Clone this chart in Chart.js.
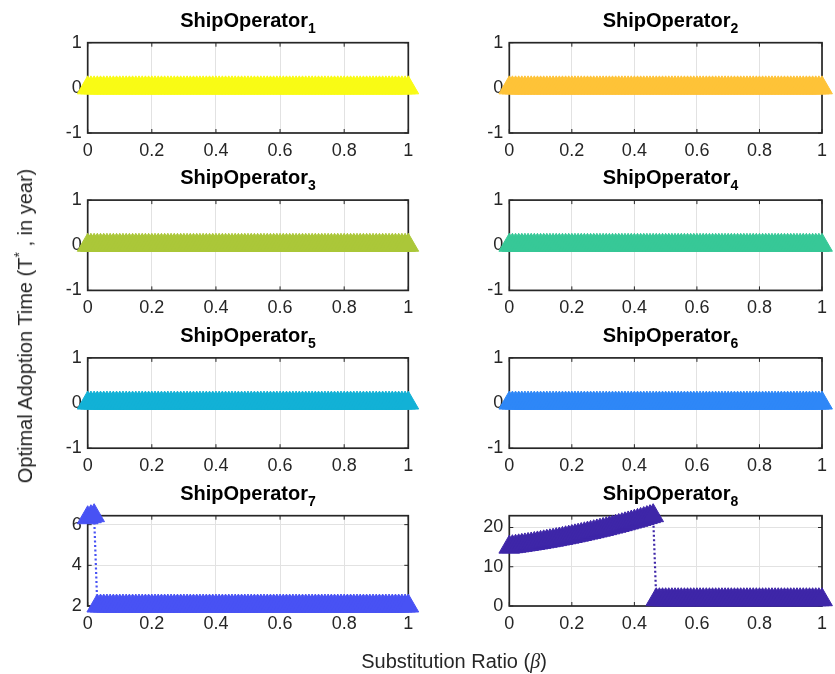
<!DOCTYPE html>
<html>
<head>
<meta charset="utf-8">
<script src="https://cdn.jsdelivr.net/npm/chart.js@4.4.1/dist/chart.umd.min.js"></script>
<style>
html,body{margin:0;padding:0;background:#fff;}
#wrap{position:relative;width:835px;height:674px;overflow:hidden;font-family:"Liberation Sans",Arial,sans-serif;background:#fff;}
#wrap canvas{position:absolute;left:0;top:0;}
.ttl{position:absolute;font-weight:bold;font-size:20px;line-height:20px;color:#000;white-space:nowrap;transform:translateX(-50%);}
.ttl sub{font-size:14px;line-height:0;vertical-align:-6px;}
.lbl{position:absolute;font-size:20px;line-height:20px;color:#262626;white-space:nowrap;}
.lbl sup{font-size:14px;line-height:0;vertical-align:8px;}
.beta{font-family:"Liberation Serif","DejaVu Serif",serif;font-style:italic;}
</style>
</head>
<body>
<div id="wrap"></div>
<script>
// ---------------- data ----------------
const betas = [
0,0.01,0.02,0.03,0.04,0.05,0.06,0.07,0.08,0.09,
0.1,0.11,0.12,0.13,0.14,0.15,0.16,0.17,0.18,0.19,
0.2,0.21,0.22,0.23,0.24,0.25,0.26,0.27,0.28,0.29,
0.3,0.31,0.32,0.33,0.34,0.35,0.36,0.37,0.38,0.39,
0.4,0.41,0.42,0.43,0.44,0.45,0.46,0.47,0.48,0.49,
0.5,0.51,0.52,0.53,0.54,0.55,0.56,0.57,0.58,0.59,
0.6,0.61,0.62,0.63,0.64,0.65,0.66,0.67,0.68,0.69,
0.7,0.71,0.72,0.73,0.74,0.75,0.76,0.77,0.78,0.79,
0.8,0.81,0.82,0.83,0.84,0.85,0.86,0.87,0.88,0.89,
0.9,0.91,0.92,0.93,0.94,0.95,0.96,0.97,0.98,0.99,
1];

const ship1 = [
0,0,0,0,0,0,0,0,0,0, 0,0,0,0,0,0,0,0,0,0, 0,0,0,0,0,0,0,0,0,0, 0,0,0,0,0,0,0,0,0,0,
0,0,0,0,0,0,0,0,0,0, 0,0,0,0,0,0,0,0,0,0, 0,0,0,0,0,0,0,0,0,0, 0,0,0,0,0,0,0,0,0,0,
0,0,0,0,0,0,0,0,0,0, 0,0,0,0,0,0,0,0,0,0, 0];
const ship2 = [
0,0,0,0,0,0,0,0,0,0, 0,0,0,0,0,0,0,0,0,0, 0,0,0,0,0,0,0,0,0,0, 0,0,0,0,0,0,0,0,0,0,
0,0,0,0,0,0,0,0,0,0, 0,0,0,0,0,0,0,0,0,0, 0,0,0,0,0,0,0,0,0,0, 0,0,0,0,0,0,0,0,0,0,
0,0,0,0,0,0,0,0,0,0, 0,0,0,0,0,0,0,0,0,0, 0];
const ship3 = [
0,0,0,0,0,0,0,0,0,0, 0,0,0,0,0,0,0,0,0,0, 0,0,0,0,0,0,0,0,0,0, 0,0,0,0,0,0,0,0,0,0,
0,0,0,0,0,0,0,0,0,0, 0,0,0,0,0,0,0,0,0,0, 0,0,0,0,0,0,0,0,0,0, 0,0,0,0,0,0,0,0,0,0,
0,0,0,0,0,0,0,0,0,0, 0,0,0,0,0,0,0,0,0,0, 0];
const ship4 = [
0,0,0,0,0,0,0,0,0,0, 0,0,0,0,0,0,0,0,0,0, 0,0,0,0,0,0,0,0,0,0, 0,0,0,0,0,0,0,0,0,0,
0,0,0,0,0,0,0,0,0,0, 0,0,0,0,0,0,0,0,0,0, 0,0,0,0,0,0,0,0,0,0, 0,0,0,0,0,0,0,0,0,0,
0,0,0,0,0,0,0,0,0,0, 0,0,0,0,0,0,0,0,0,0, 0];
const ship5 = [
0,0,0,0,0,0,0,0,0,0, 0,0,0,0,0,0,0,0,0,0, 0,0,0,0,0,0,0,0,0,0, 0,0,0,0,0,0,0,0,0,0,
0,0,0,0,0,0,0,0,0,0, 0,0,0,0,0,0,0,0,0,0, 0,0,0,0,0,0,0,0,0,0, 0,0,0,0,0,0,0,0,0,0,
0,0,0,0,0,0,0,0,0,0, 0,0,0,0,0,0,0,0,0,0, 0];
const ship6 = [
0,0,0,0,0,0,0,0,0,0, 0,0,0,0,0,0,0,0,0,0, 0,0,0,0,0,0,0,0,0,0, 0,0,0,0,0,0,0,0,0,0,
0,0,0,0,0,0,0,0,0,0, 0,0,0,0,0,0,0,0,0,0, 0,0,0,0,0,0,0,0,0,0, 0,0,0,0,0,0,0,0,0,0,
0,0,0,0,0,0,0,0,0,0, 0,0,0,0,0,0,0,0,0,0, 0];
const ship7 = [
6.34,6.39,6.44,2,2,2,2,2,2,2, 2,2,2,2,2,2,2,2,2,2, 2,2,2,2,2,2,2,2,2,2, 2,2,2,2,2,2,2,2,2,2,
2,2,2,2,2,2,2,2,2,2, 2,2,2,2,2,2,2,2,2,2, 2,2,2,2,2,2,2,2,2,2, 2,2,2,2,2,2,2,2,2,2,
2,2,2,2,2,2,2,2,2,2, 2,2,2,2,2,2,2,2,2,2, 2];
const ship8 = [
15.00,15.11,15.22,15.33,15.45,15.57,15.69,15.81,15.94,16.07,
16.21,16.35,16.49,16.63,16.77,16.92,17.07,17.23,17.39,17.55,
17.71,17.88,18.05,18.22,18.40,18.58,18.76,18.94,19.13,19.32,
19.51,19.71,19.91,20.11,20.31,20.52,20.73,20.95,21.17,21.39,
21.61,21.83,22.06,22.29,22.53,22.77,23.01,
1.6,1.6,1.6,
1.6,1.6,1.6,1.6,1.6,1.6,1.6,1.6,1.6,1.6,
1.6,1.6,1.6,1.6,1.6,1.6,1.6,1.6,1.6,1.6,
1.6,1.6,1.6,1.6,1.6,1.6,1.6,1.6,1.6,1.6,
1.6,1.6,1.6,1.6,1.6,1.6,1.6,1.6,1.6,1.6,
1.6,1.6,1.6,1.6,1.6,1.6,1.6,1.6,1.6,1.6,
1.6];

const seriesNames = ["ShipOperator","ShipOperator","ShipOperator","ShipOperator","ShipOperator","ShipOperator","ShipOperator","ShipOperator"];
const seriesIndex = ["1","2","3","4","5","6","7","8"];
const seriesColors = ["#F9FB15","#FEC338","#ABC739","#37C897","#12B1D6","#2E87F7","#4852F4","#3E26A8"];

const xTicks = [0,0.2,0.4,0.6,0.8,1];
const xTickLabels = ["0","0.2","0.4","0.6","0.8","1"];
const yTicksUnit = [-1,0,1];
const yTickLabelsUnit = ["-1","0","1"];
const yTicks7 = [2,4,6];
const yTickLabels7 = ["2","4","6"];
const yTicks8 = [0,10,20];
const yTickLabels8 = ["0","10","20"];
const yLimits = [[-1,1],[-1,1],[-1,1],[-1,1],[-1,1],[-1,1],[2,6.44],[0,23.01]];

const xLabelText = "Substitution Ratio (";
const yLabelText = "Optimal Adoption Time (T";

// ---------------- layout ----------------
const W = 835, H = 674;
const colLR = [[87.7,408.3],[509.3,831.7]];
const rowTop = [42.7,200.1,357.9,515.7];
const axH = 90.3;
const YW = 60, XH = 30, TICK = 4;
const FONT = '"Liberation Sans", Arial, Helvetica, sans-serif';

const all = [ship1,ship2,ship3,ship4,ship5,ship6,ship7,ship8];
const yT = [yTicksUnit,yTicksUnit,yTicksUnit,yTicksUnit,yTicksUnit,yTicksUnit,yTicks7,yTicks8];
const yTL = [yTickLabelsUnit,yTickLabelsUnit,yTickLabelsUnit,yTickLabelsUnit,yTickLabelsUnit,yTickLabelsUnit,yTickLabels7,yTickLabels8];

const boxPlugin = {
  id: 'mbox',
  beforeDatasetsDraw(chart) {
    const ctx = chart.ctx, a = chart.chartArea, xs = chart.scales.x, ys = chart.scales.y;
    ctx.save();
    ctx.strokeStyle = '#262626';
    ctx.lineWidth = 1;
    ctx.beginPath();
    xs.ticks.forEach(t => {
      const p = xs.getPixelForValue(t.value);
      ctx.moveTo(p, a.bottom); ctx.lineTo(p, a.bottom - TICK);
      ctx.moveTo(p, a.top); ctx.lineTo(p, a.top + TICK);
    });
    ys.ticks.forEach(t => {
      const p = ys.getPixelForValue(t.value);
      ctx.moveTo(a.left, p); ctx.lineTo(a.left + TICK, p);
      ctx.moveTo(a.right, p); ctx.lineTo(a.right - TICK, p);
    });
    ctx.stroke();
    ctx.lineWidth = 1.7;
    ctx.strokeRect(a.left, a.top, a.right - a.left, a.bottom - a.top);
    ctx.restore();
  }
};

const wrap = document.getElementById('wrap');

all.forEach((vals, k) => {
  const col = k % 2, row = Math.floor(k / 2);
  const L = colLR[col][0], R = colLR[col][1], T = rowTop[row], B = T + axH;
  const cv = document.createElement('canvas');
  cv.width = W; cv.height = H;
  cv.style.width = W + 'px'; cv.style.height = H + 'px';
  wrap.appendChild(cv);
  const color = seriesColors[k];
  const yt = yT[k], ytl = yTL[k];
  new Chart(cv.getContext('2d'), {
    type: 'line',
    data: {
      datasets: [{
        data: betas.map((b, i) => ({x: b, y: vals[i]})),
        borderColor: color,
        backgroundColor: color,
        borderWidth: 2.2,
        borderDash: [2, 2.5],
        pointStyle: 'triangle',
        pointRadius: 12,
        pointBorderWidth: 1,
        pointBackgroundColor: color,
        pointBorderColor: color,
        tension: 0,
        fill: false,
        clip: false
      }]
    },
    options: {
      responsive: false,
      animation: false,
      events: [],
      devicePixelRatio: 1,
      layout: {padding: {left: L - YW, top: T, right: W - R, bottom: H - B - XH}},
      plugins: {legend: {display: false}, tooltip: {enabled: false}, title: {display: false}},
      scales: {
        x: {
          type: 'linear', min: 0, max: 1,
          afterBuildTicks: s => { s.ticks = xTicks.map(v => ({value: v})); },
          afterFit: s => { s.height = XH; s.paddingLeft = 0; s.paddingRight = 0; s.paddingTop = 0; s.paddingBottom = 0; },
          ticks: {callback: (v, i) => xTickLabels[i], color: '#262626', font: {family: FONT, size: 18}, padding: 7, maxRotation: 0, minRotation: 0, autoSkip: false},
          grid: {color: '#e2e2e2', lineWidth: 1, drawTicks: false},
          border: {display: false}
        },
        y: {
          type: 'linear', min: yLimits[k][0], max: yLimits[k][1],
          afterBuildTicks: s => { s.ticks = yt.map(v => ({value: v})); },
          afterFit: s => { s.width = YW; s.paddingTop = 0; s.paddingBottom = 0; s.paddingLeft = 0; s.paddingRight = 0; },
          ticks: {callback: (v, i) => ytl[i], color: '#262626', font: {family: FONT, size: 18}, padding: 6, autoSkip: false},
          grid: {color: '#e2e2e2', lineWidth: 1, drawTicks: false},
          border: {display: false}
        }
      }
    },
    plugins: [boxPlugin]
  });
  const t = document.createElement('div');
  t.className = 'ttl';
  t.style.left = ((L + R) / 2) + 'px';
  t.style.top = (T - 16 - 16.9) + 'px';
  t.innerHTML = seriesNames[k] + '<sub>' + seriesIndex[k] + '</sub>';
  wrap.appendChild(t);
});

const xl = document.createElement('div');
xl.className = 'lbl';
xl.style.left = '454px';
xl.style.top = (668 - 16.9) + 'px';
xl.style.transform = 'translateX(-50%)';
xl.innerHTML = xLabelText + '<span class="beta">β</span>)';
wrap.appendChild(xl);

const yl = document.createElement('div');
yl.className = 'lbl';
yl.style.left = '24.8px';
yl.style.top = '326px';
yl.style.transform = 'translate(-50%,-50%) rotate(-90deg)';
yl.innerHTML = yLabelText + '<sup>*</sup> , in year)';
wrap.appendChild(yl);
</script>
</body>
</html>
